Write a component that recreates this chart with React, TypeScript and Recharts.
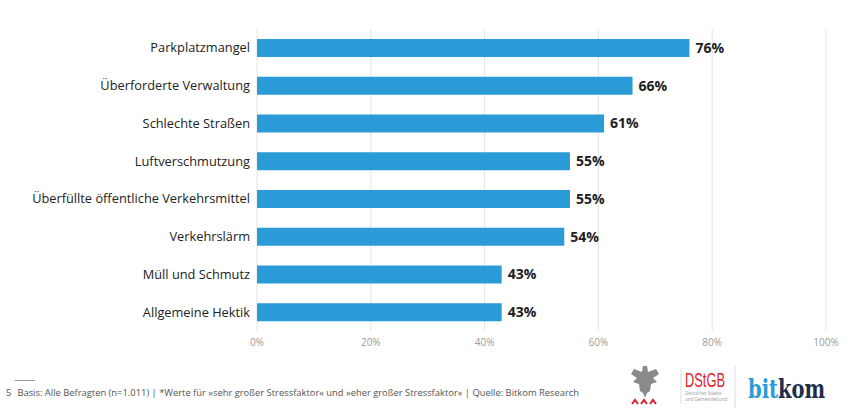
import React from 'react';
import { BarChart, Bar, XAxis, YAxis, CartesianGrid, LabelList } from 'recharts';

const categories = [
  'Parkplatzmangel',
  'Überforderte Verwaltung',
  'Schlechte Straßen',
  'Luftverschmutzung',
  'Überfüllte öffentliche Verkehrsmittel',
  'Verkehrslärm',
  'Müll und Schmutz',
  'Allgemeine Hektik',
];
const shares = [76, 66, 61, 55, 55, 54, 43, 43];
const xTicks = [0, 20, 40, 60, 80, 100];

const footnote =
  'Basis: Alle Befragten (n=1.011) | *Werte für »sehr großer Stressfaktor« und »eher großer Stressfaktor« | Quelle: Bitkom Research';

const BLUE = '#2a9bd6';
const FONT = '"Open Sans", "Noto Sans", sans-serif';

const data = categories.map((name, i) => ({ name, value: shares[i] }));

const App: React.FC = () => {
  return (
    <div style={{ position: 'absolute', left: 0, top: 0, width: 850, height: 411, background: '#fff', fontFamily: FONT }}>
      <BarChart
        width={850}
        height={360}
        data={data}
        layout="vertical"
        margin={{ top: 29, right: 24, bottom: 4, left: 0 }}
        barCategoryGap={0}
      >
        <CartesianGrid horizontal={false} stroke="#e4e4e4" />
        <XAxis
          type="number"
          domain={[0, 100]}
          ticks={xTicks}
          tickFormatter={(v) => `${v}%`}
          axisLine={false}
          tickLine={false}
          height={25}
          tick={{ fill: '#9a9a9a', fontSize: 10, fontFamily: FONT }}
        />
        <YAxis
          type="category"
          dataKey="name"
          width={257}
          axisLine={false}
          tickLine={false}
          tickMargin={1}
          tick={{ fill: '#222', fontSize: 12.8, fontFamily: FONT }}
        />
        <Bar dataKey="value" fill={BLUE} barSize={18} isAnimationActive={false}>
          <LabelList
            dataKey="value"
            position="right"
            offset={6}
            formatter={(v: number) => `${v}%`}
            style={{ fill: '#1e1e1e', fontSize: 14, fontWeight: 700, fontFamily: FONT }}
          />
        </Bar>
      </BarChart>

      <div style={{ position: 'absolute', left: 15, top: 380, width: 20, borderTop: '1px solid #999' }} />
      <div style={{ position: 'absolute', left: 6, top: 386, fontSize: 9.4, color: '#555', whiteSpace: 'nowrap' }}>
        <span style={{ marginRight: 6 }}>5</span>
        {footnote}
      </div>

      <svg style={{ position: 'absolute', left: 620, top: 362 }} width={230} height={48}>
        {/* eagle */}
        <path
          d="M23 4 L27 4 L28 10 L36 7 L39 12 L33 16 L37 20 L31 22 L30 29 L27 31 L25 36 L23 31 L20 29 L19 22 L13 20 L17 16 L11 12 L14 7 L22 10 Z"
          fill="#8a8a8a"
        />
        <path d="M12 42 l3 -4 l3 4 M21 42 l3 -4 l3 4 M30 42 l3 -4 l3 4" stroke="#d9252a" strokeWidth={2} fill="none" />
        <line x1={61} y1={6} x2={61} y2={42} stroke="#ddd" />
        <text x={65} y={25} fill="#d9252a" fontSize={21} textLength={40} lengthAdjust="spacingAndGlyphs" fontFamily='"Liberation Sans", sans-serif'>
          DStGB
        </text>
        <text x={65} y={33} fill="#999" fontSize={4.5} fontFamily={FONT}>Deutscher Städte-</text>
        <text x={65} y={39} fill="#999" fontSize={4.5} fontFamily={FONT}>und Gemeindebund</text>
        <line x1={115} y1={4} x2={115} y2={46} stroke="#ddd" />
        <g transform="translate(128,36) scale(0.75,1)">
          <text x={0} y={0} fontSize={26} fontWeight={700} fontFamily='"DejaVu Serif", serif'>
            <tspan fill={BLUE}>bit</tspan>
            <tspan fill="#1f2d4d">kom</tspan>
          </text>
        </g>
      </svg>
    </div>
  );
};

export default App;
